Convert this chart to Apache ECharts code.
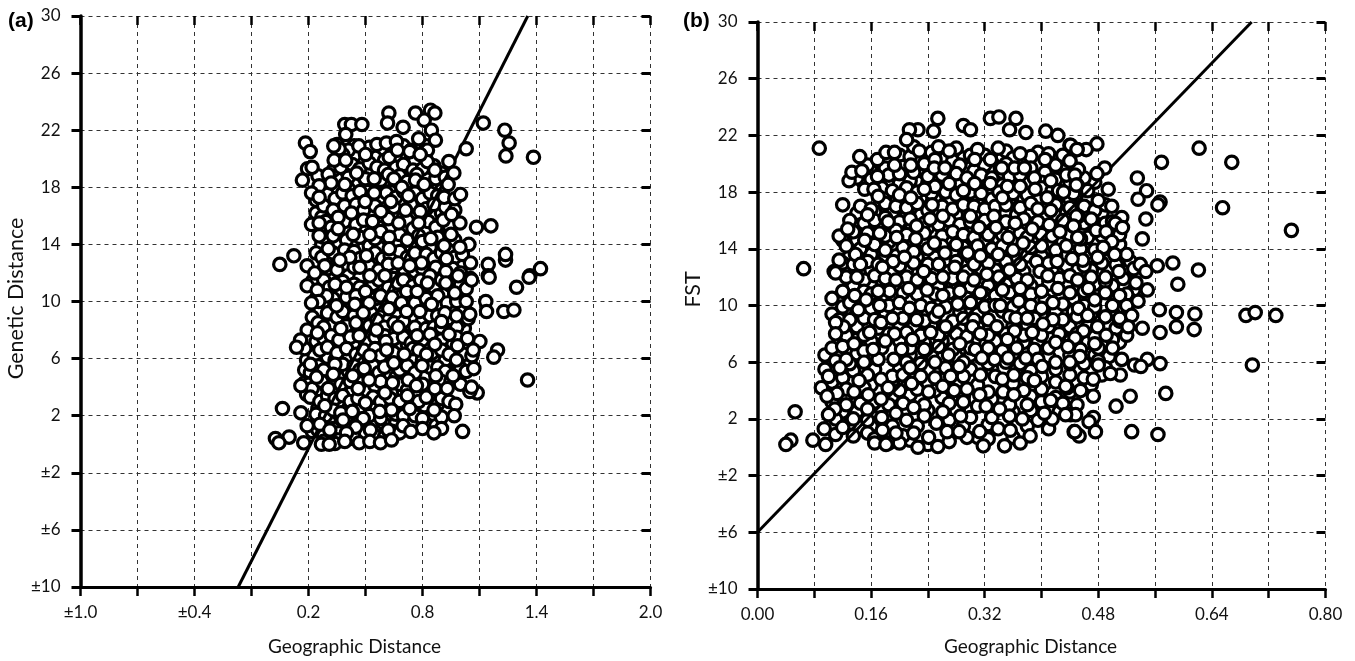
<!DOCTYPE html>
<html>
<head>
<meta charset="utf-8">
<style>
  html, body { margin: 0; padding: 0; background: #fff; }
  #chart { width: 1355px; height: 661px; }
</style>
<script src="https://cdn.jsdelivr.net/npm/echarts@6/dist/echarts.min.js"></script>
</head>
<body>
<div id="chart"></div>
<script>
// tick positions and labels
const yTicks = [-10, -6, -2, 2, 6, 10, 14, 18, 22, 26, 30]
const yLabels = ['±10', '±6', '±2', '2', '6', '10', '14', '18', '22', '26', '30']
const xTicksA = [-1.0, -0.7, -0.4, -0.1, 0.2, 0.5, 0.8, 1.1, 1.4, 1.7, 2.0]
const xLabelValuesA = [-1.0, -0.4, 0.2, 0.8, 1.4, 2.0]
const xLabelsA = ['±1.0', '±0.4', '0.2', '0.8', '1.4', '2.0']
const xTicksB = [0, 0.08, 0.16, 0.24, 0.32, 0.40, 0.48, 0.56, 0.64, 0.72, 0.80]
const xLabelValuesB = [0, 0.16, 0.32, 0.48, 0.64, 0.80]
const xLabelsB = ['0.00', '0.16', '0.32', '0.48', '0.64', '0.80']

// fitted lines, end points
const fitLineA = [[-0.17, -10], [1.354, 30]]
const fitLineB = [[0, -6], [0.696, 30]]

// panel (a): deepest layer, mostly hidden rings
const buriedA = [
  [.44,20.9],[.58,20.5],[.66,20.2],[.72,20.2],[.44,20.2],[.55,20.1],[.6,19.9],[.76,19.9],[.3,18.5],[.35,18.6],
  [.44,18.2],[.54,18.2],[.6,18.3],[.66,18.2],[.74,18],[.82,18.6],[.88,18],[.29,18],[.35,17.8],[.41,17.9],
  [.52,18.1],[.63,17.7],[.78,17.9],[.9,17.8],[.24,16.2],[.27,15.9],[.36,16.4],[.43,16],[.47,16],[.53,16.2],
  [.58,15.8],[.65,16],[.7,15.9],[.77,16],[.85,16.1],[.9,16.2],[.96,15.8],[.27,14],[.31,14.1],[.36,14],
  [.43,14],[.52,13.9],[.57,13.8],[.66,14.1],[.74,13.8],[.84,13.8],[.92,14.5],[.97,14.3],[.33,12.9],[.29,12.9],
  [.4,12.6],[.48,12.7],[.56,12.9],[.65,12.8],[.72,12.5],[.83,12.7],[.89,12.9],[.93,12.6],[.25,11.9],[.33,11.7],
  [.41,11.8],[.47,11.7],[.6,11.5],[.65,11.6],[.73,11.6],[.78,11.9],[.83,11.5],[.94,11.7],[.24,10.2],[.3,10.6],
  [.37,10.5],[.42,9.8],[.48,10.2],[.51,10.5],[.61,10.5],[.68,10.3],[.74,10.5],[.79,10.3],[.85,10.6],[.91,10.5],
  [.97,10.5],[.26,9.4],[.33,9.4],[.41,9.4],[.47,9.6],[.56,9.5],[.64,9.5],[.7,9.4],[.77,9.6],[.82,9.5],
  [.9,9.6],[.97,9.3],[1.02,9.4],[.22,8.9],[.32,8.3],[.43,8.1],[.49,8.6],[.58,8.2],[.68,8],[.74,8.3],
  [.79,8],[.84,8.5],[.94,8.3],[1.02,8.1],[.24,6.9],[.33,7],[.39,7.5],[.46,7.7],[.53,6.9],[.62,7],
  [.67,6.8],[.72,7],[.82,6.9],[.87,7.1],[.96,7.1],[1.05,6.7],[.19,5.9],[.23,6.2],[.3,6.1],[.34,5.9],
  [.41,6],[.46,5.8],[.52,5.7],[.6,5.9],[.67,5.9],[.74,6],[.8,5.9],[.87,5.8],[.92,5.9],[.98,5.7],
  [1.05,5.7],[.18,5.2],[.24,4.8],[.3,4.7],[.36,4.7],[.41,5.1],[.5,4.7],[.56,4.6],[.62,4.9],[.66,4.7],
  [.74,4.7],[.81,4.7],[.88,4.5],[.98,4.7],[.19,3.5],[.24,3.7],[.3,3.9],[.39,3.6],[.43,3.7],[.5,3.8],
  [.56,3.7],[.62,3.6],[.66,3.6],[.7,3.7],[.76,3.5],[.82,3.8],[.9,3.6],[.25,2.5],[.31,2.9],[.36,2.8],
  [.41,2.5],[.47,2.6],[.55,2.8],[.61,2.7],[.67,2.7],[.74,3],[.81,2.7],[.88,2.8],[.27,1.7],[.31,1.6],
  [.4,1.7],[.47,1.6],[.53,1.4],[.6,1.4],[.66,1.5],[.74,1.5],[.82,1.4],[.87,1.3],[.42,.4],[.47,.6]
]

// panel (a): rings that are partly covered in the dense middle of the cloud
const coveredA = [
  [.35,21],[.41,20.6],[.38,20.3],[.52,20.8],[.56,21],[.64,20.9],[.7,20.9],[.74,20.6],[.82,20.9],[.36,20],
  [.25,18.8],[.33,19.2],[.37,19.4],[.43,19.6],[.47,19.3],[.52,19.7],[.56,19.4],[.6,19.2],[.66,19.4],[.7,19.6],
  [.75,19.2],[.8,19.3],[.86,19.5],[.9,19],[.41,18.7],[.5,18.6],[.58,18.5],[.62,18.9],[.68,18.8],[.72,18.4],
  [.77,18.9],[.87,18.6],[.92,18.7],[.24,17.1],[.3,17.5],[.34,17.2],[.38,17.6],[.43,17.4],[.51,17.7],[.58,17.2],
  [.61,17.6],[.66,17.3],[.7,17.7],[.76,17.6],[.8,17.2],[.84,17.6],[.88,17.4],[.28,16.7],[.33,16.4],[.39,16.7],
  [.45,16.8],[.49,16.4],[.55,16.7],[.6,16.5],[.65,16.6],[.74,16.8],[.82,16.5],[.86,16.8],[.92,16.6],[.97,16.4],
  [.29,15.6],[.32,15.2],[.39,15.6],[.45,15.4],[.49,15.7],[.57,15.2],[.62,15.8],[.72,15.7],[.75,15.1],[.83,15.6],
  [.87,15.2],[.94,15.3],[.28,14.5],[.33,14.6],[.4,14.3],[.47,14.5],[.55,14.4],[.58,14.9],[.68,14.7],[.72,14.3],
  [.78,14.6],[.8,14.2],[.88,14.5],[.95,14.7],[.24,13.4],[.27,13.1],[.33,13.4],[.39,13.6],[.44,13.5],[.47,13],
  [.55,13.4],[.59,13],[.63,13.2],[.68,13.5],[.72,13.1],[.76,13.4],[.82,13.3],[.86,13],[.9,13.4],[.97,13.1],
  [1.01,13.3],[.3,12.3],[.35,12.2],[.44,12.4],[.52,12.5],[.57,12.2],[.62,12.6],[.7,12.3],[.76,12.1],[.8,12.3],
  [.87,12.4],[.96,12.3],[1,12],[.22,11.4],[.28,11.5],[.31,11],[.38,11.4],[.44,11.2],[.47,11],[.54,11.2],
  [.57,11.5],[.62,11],[.67,11.3],[.7,11.5],[.75,11.1],[.79,11.5],[.86,11],[.9,11.5],[.95,11.1],[1,11.2],
  [1.03,10.9],[.28,10],[.33,10.2],[.4,10.3],[.45,10.4],[.55,10.2],[.58,10.4],[.64,10.3],[.72,10],[.76,9.9],
  [.82,10.2],[.88,10.4],[.93,9.9],[.98,10],[1.03,10],[.3,9.2],[.35,8.9],[.38,9.3],[.44,9],[.53,9.2],
  [.58,8.9],[.62,8.7],[.67,9],[.75,8.8],[.8,8.6],[.84,9],[.88,9],[.95,8.8],[1,8.6],[1.04,8.8],
  [.25,8.5],[.28,8.2],[.4,8.3],[.45,8.5],[.52,8.3],[.56,8.7],[.6,8.2],[.65,8.5],[.7,8.6],[.76,8.2],
  [.82,8.1],[.86,8.2],[.9,8.2],[.98,8.2],[.2,7.5],[.24,7.2],[.28,7.4],[.32,7.6],[.36,7.3],[.42,7.5],
  [.5,7.1],[.55,7.5],[.6,7.6],[.65,7.4],[.7,7.5],[.74,7.1],[.8,7.3],[.84,7.7],[.9,7.3],[.98,7.5],
  [1.02,7],[.18,6.7],[.26,6.6],[.3,6.8],[.35,6.4],[.4,6.7],[.45,6.3],[.49,6.6],[.55,6.7],[.58,6.2],
  [.65,6.4],[.75,6.7],[.78,6.6],[.85,6.4],[.9,6.6],[.94,6.3],[1.02,6.3],[1.06,6.2],[.21,5],[.25,5.5],
  [.28,5.2],[.35,5.4],[.38,5.6],[.44,5.5],[.47,5.2],[.54,5.5],[.57,5],[.6,5.4],[.68,5.2],[.72,5.5],
  [.76,5],[.84,5.4],[.88,5.4],[.92,5.1],[1,5.3],[1.03,5.1],[.18,4.3],[.2,4.2],[.22,3.9],[.27,4.4],
  [.33,4],[.37,4.2],[.42,4.4],[.47,4.3],[.55,4.1],[.58,4.4],[.68,4.2],[.72,3.8],[.8,4.2],[.9,4.4],
  [.95,4.4],[1,4.2],[.21,3.3],[.26,3],[.3,3.4],[.34,3.2],[.38,3.4],[.42,3],[.46,3.2],[.54,3.3],
  [.58,3],[.63,3.2],[.68,3],[.72,3.4],[.78,3],[.82,3.3],[.9,3.2],[.94,3],[.24,2.1],[.29,2],
  [.33,2.4],[.37,2.2],[.43,2.3],[.52,2],[.58,1.8],[.66,2.1],[.7,2],[.76,2],[.8,1.8],[.9,1.9],
  [.22,.9],[.25,1],[.28,.6],[.33,1.1],[.36,.8],[.41,1.2],[.44,.5],[.5,.8],[.55,.6],[.6,.5],
  [.64,.9],[.68,.8],[.28,.2],[.33,.4],[.36,.3]
]

// panel (a): rings that are fully visible
const visibleA = [
  [.623,23.2],[.616,22.5],[.698,22.2],[.763,23.2],[.842,23.4],[.865,23.2],[.809,22.7],[.847,22],[.868,21.3],[.391,22.4],
  [.426,22.4],[.481,22.4],[.396,21.7],[.184,21.1],[.209,20.5],[1.03,20.7],[1.12,22.5],[1.233,22],[1.256,21.1],[1.239,20.2],
  [1.384,20.1],[.939,19.8],[.195,19.3],[.219,19.4],[.168,18.5],[.304,18.9],[.319,18.3],[.391,18.2],[.256,18.1],[.216,17.6],
  [.256,17.3],[.361,20.7],[.335,19.9],[.396,19.9],[.465,20.9],[.5,20.3],[.333,20.9],[.61,21.1],[.663,21.2],[.625,20.1],
  [.668,20.6],[.733,20.5],[.78,21.4],[.826,20.6],[.825,19.8],[.788,20.3],[.865,19.2],[.546,18.6],[.649,18.6],[.763,18.5],
  [.691,18],[.809,18.2],[.453,19],[.471,17.7],[.546,17.6],[.725,17.4],[.633,17],[.498,17],[.711,16.4],[.788,16.3],
  [.914,17.3],[.97,17.2],[.965,19],[.935,18.2],[1,17.5],[.426,16.2],[.356,15.9],[.581,16.3],[.537,15.6],[.675,15.5],
  [.78,15.5],[.909,15.7],[.997,15.5],[1.084,15.2],[1.16,15.3],[.953,16.1],[.216,15.4],[.256,15.5],[.356,15.1],[.435,14.7],
  [.256,14.6],[.523,14.7],[.625,14.5],[.844,14.4],[.914,13.9],[1.044,14],[.997,13.8],[.625,13.7],[.304,13.7],[.505,13.2],
  [.417,13.1],[.365,12.9],[.795,12.7],[.926,13],[1.053,12.7],[1.146,12.6],[1.237,12.9],[1.237,13.3],[1.421,12.3],[1.365,11.8],
  [.049,12.6],[.123,13.2],[.193,12.5],[.233,12],[.47,12.4],[.672,12.7],[.923,12.1],[.523,11.8],[.602,11.8],[.733,12.5],
  [.839,11.8],[.286,12.5],[1.146,11.8],[1.053,11.6],[.988,11.8],[.193,11.1],[.295,10.4],[.246,10.8],[.34,11.2],[.5,10.7],
  [.347,9.7],[.254,10],[.216,9.9],[.444,9.8],[.519,9.9],[.4,11],[.716,10.7],[.772,10.7],[.826,11.3],[.923,11.3],
  [.97,10.6],[1.058,11.5],[1.151,11.7],[1.295,11],[1.361,11.7],[1.133,10],[1.137,9.3],[1.228,9.3],[1.281,9.4],[.689,9.9],
  [.847,9.8],[1.049,9.1],[.918,9.2],[.979,9],[.623,9.5],[.488,9.2],[.716,9.3],[.786,9.3],[.9,8.6],[.672,8.2],
  [.37,8.1],[.193,8],[.247,7.8],[.158,7.3],[.137,6.8],[.467,7.6],[.558,8],[.772,7.6],[.94,7.7],[1.037,7.4],
  [1.102,7.2],[.607,7.2],[.984,6.9],[1.067,6.6],[.865,7],[.611,6.6],[.821,6.3],[.704,6.3],[.523,6.2],[1.195,6.6],
  [1.175,6.1],[.979,5.9],[.649,5.7],[.798,5.5],[.339,5.6],[.21,5.6],[.493,5.3],[1.07,5.3],[.961,4.8],[.87,4.8],
  [.725,4.5],[.519,4.5],[.433,4.8],[.33,4.9],[.242,4.7],[.642,4.3],[1.353,4.5],[1.088,3.6],[1.049,3.7],[1.058,4],
  [.768,4.1],[.865,3.9],[.93,3.9],[.304,3.9],[.461,3.9],[.602,3.6],[.16,4.1],[.975,2.8],[.286,2.7],[.5,2.9],
  [.733,2.5],[.861,2.4],[.637,2.4],[.575,2.3],[.063,2.5],[.16,2.2],[.967,2],[.488,1.8],[.382,1.7],[.193,1.3],
  [.26,1.4],[.312,1],[.449,1.2],[.698,1.3],[.8,1.1],[.9,1.1],[1.011,.9],[.86,.8],[.739,.9],[.619,1],
  [.526,1],[.4,.8],[.467,.1],[.339,.05],[.175,.1],[.523,.2],[.579,.1],[.637,.3],[.268,0],[.309,0],
  [.391,.2],[.098,.5],[.026,.4],[.044,.1]
]

// panel (b): deepest layer, mostly hidden rings
const buriedB = [
  [.2,20.6],[.215,20.5],[.24,20.5],[.265,20.4],[.29,20.4],[.32,20.6],[.345,20.5],[.395,20.8],[.41,20.7],[.16,19.5],
  [.175,19.4],[.21,19.2],[.235,19.4],[.25,19],[.27,19],[.305,19.5],[.325,19.6],[.345,19.4],[.385,19.3],[.405,19.4],
  [.43,19.5],[.15,18.6],[.185,18.6],[.2,18.6],[.215,18.8],[.24,18.7],[.265,18.5],[.285,18.7],[.31,18.7],[.345,18.5],
  [.36,18.7],[.38,18.6],[.4,18.7],[.425,18.5],[.44,18.7],[.475,18.7],[.18,17.7],[.205,17.4],[.23,17.6],[.25,17.5],
  [.27,17.4],[.29,17.6],[.31,17.5],[.33,17.5],[.355,17.5],[.375,17.5],[.395,17.4],[.42,17.5],[.44,17.5],[.465,17.6],
  [.14,16.5],[.165,16.6],[.19,16.5],[.21,16.5],[.23,16.4],[.28,16.4],[.31,16.5],[.35,16.5],[.365,16.4],[.385,16.6],
  [.405,16.3],[.435,16.5],[.465,16.4],[.485,16.5],[.14,15.5],[.155,15.5],[.2,15.5],[.24,15.5],[.265,15.4],[.295,15.5],
  [.33,15.4],[.36,15.4],[.4,15.5],[.425,15.6],[.475,15.6],[.5,15.4],[.12,14.6],[.14,14.6],[.165,14.7],[.185,14.5],
  [.21,14.5],[.235,14.5],[.27,14.6],[.295,14.6],[.32,14.6],[.34,14.6],[.365,14.5],[.39,14.5],[.41,14.5],[.43,14.5],
  [.475,14.5],[.51,14.3],[.13,13.5],[.16,13.6],[.18,13.4],[.195,13.5],[.225,13.4],[.25,13.4],[.28,13.5],[.3,13.4],
  [.325,13.5],[.36,13.5],[.38,13.5],[.4,13.5],[.42,13.5],[.465,13.4],[.495,13.4],[.515,13.3],[.13,12.5],[.16,12.5],
  [.19,12.4],[.21,12.5],[.25,12.4],[.27,12.4],[.295,12.4],[.315,12.6],[.335,12.5],[.375,12.4],[.415,12.5],[.45,12.5],
  [.47,12.5],[.495,12.5],[.52,12.4],[.135,11.4],[.16,11.4],[.185,11.5],[.2,11.4],[.23,11.4],[.255,11.3],[.275,11.4],
  [.3,11.3],[.325,11.4],[.35,11.5],[.385,11.4],[.41,11.5],[.435,11.4],[.475,11.5],[.5,11.4],[.53,11.1],[.105,10.5],
  [.145,10.4],[.175,10.5],[.215,10.4],[.24,10.4],[.27,10.4],[.295,10.5],[.315,10.5],[.35,10.4],[.38,10.4],[.405,10.4],
  [.445,10.5],[.47,10.5],[.505,10.4],[.525,10.4],[.105,9.4],[.14,9.5],[.18,9.5],[.215,9.4],[.24,9.5],[.285,9.5],
  [.31,9.4],[.345,9.6],[.375,9.5],[.4,9.4],[.42,9.6],[.445,9.6],[.47,9.4],[.5,9.5],[.125,8.4],[.14,8.5],
  [.17,8.4],[.2,8.5],[.22,8.5],[.245,8.6],[.285,8.4],[.31,8.5],[.36,8.6],[.38,8.6],[.41,8.5],[.44,8.5],
  [.465,8.5],[.505,8.4],[.115,7.5],[.14,7.6],[.16,7.5],[.2,7.5],[.235,7.4],[.26,7.5],[.305,7.5],[.335,7.5],
  [.375,7.4],[.395,7.5],[.44,7.5],[.465,7.4],[.49,7.4],[.51,7.4],[.095,6.5],[.14,6.6],[.165,6.5],[.215,6.5],
  [.245,6.5],[.28,6.4],[.3,6.5],[.34,6.5],[.36,6.6],[.41,6.4],[.44,6.5],[.475,6.5],[.495,6.4],[.095,5.5],
  [.135,5.4],[.165,5.5],[.2,5.5],[.24,5.5],[.265,5.6],[.3,5.5],[.33,5.5],[.365,5.5],[.385,5.4],[.42,5.5],
  [.47,5.4],[.49,5.6],[.105,4.6],[.16,4.4],[.19,4.5],[.24,4.5],[.28,4.5],[.31,4.4],[.36,4.5],[.405,4.5],
  [.45,4.5],[.47,4.4],[.1,3.7],[.125,3.6],[.19,3.6],[.215,3.7],[.26,3.5],[.29,3.6],[.33,3.4],[.385,3.6],
  [.42,3.5],[.12,2.5],[.14,2.5],[.175,2.7],[.24,2.6],[.28,2.6],[.3,2.6],[.36,2.5],[.385,2.6],[.425,2.5],
  [.13,1.7],[.16,1.5],[.19,1.5],[.225,1.5],[.29,1.5],[.325,1.6],[.38,1.5],[.41,1.3],[.215,.5],[.31,.7]
]

// panel (b): rings that are partly covered in the dense middle of the cloud
const coveredB = [
  [.22,21.2],[.245,20.8],[.255,21.2],[.28,21.1],[.3,20.6],[.31,21],[.35,20.9],[.36,20.4],[.385,20.5],[.155,19.9],
  [.18,19.7],[.205,19.8],[.235,20],[.25,20.3],[.275,20.2],[.285,19.9],[.32,19.9],[.35,20],[.385,19.7],[.42,19.9],
  [.43,20.6],[.14,19],[.16,18.9],[.185,19.2],[.2,19.3],[.22,19.4],[.24,19.1],[.26,19.2],[.28,19.3],[.295,19],
  [.315,19.2],[.33,19],[.355,19.1],[.37,19.2],[.39,19],[.42,18.9],[.435,19.2],[.46,19],[.175,18.3],[.19,18.1],
  [.21,18.3],[.225,18],[.245,17.9],[.265,18],[.28,17.8],[.3,18],[.315,17.9],[.34,18],[.36,17.9],[.38,17.8],
  [.4,18.3],[.415,18.1],[.445,17.9],[.465,18.1],[.145,17],[.16,16.8],[.18,17.2],[.195,17],[.21,16.9],[.225,17.2],
  [.24,16.7],[.26,17],[.275,16.8],[.29,17.1],[.305,17],[.32,16.8],[.335,17],[.35,17.1],[.37,16.9],[.385,17.2],
  [.395,16.8],[.42,17.1],[.44,16.9],[.46,17],[.475,16.7],[.49,17.1],[.13,16],[.15,15.8],[.165,16],[.18,16.2],
  [.2,15.9],[.215,16.1],[.235,15.8],[.255,15.7],[.27,16],[.285,15.7],[.3,15.9],[.32,16],[.35,15.9],[.375,16.1],
  [.395,15.9],[.43,16],[.46,15.8],[.47,16.1],[.49,15.8],[.5,15.9],[.115,14.9],[.135,15.2],[.155,15.1],[.18,14.9],
  [.195,15.3],[.21,15],[.235,15.1],[.26,14.9],[.275,15.2],[.29,15],[.305,14.8],[.325,15],[.345,15],[.37,15.1],
  [.38,14.8],[.4,15],[.415,14.9],[.44,15],[.465,14.8],[.485,14.9],[.51,15],[.125,14.2],[.145,14],[.165,14.3],
  [.18,13.9],[.205,14.1],[.22,13.8],[.24,14],[.26,14.2],[.275,13.8],[.29,14.1],[.31,14.2],[.33,14],[.345,14.2],
  [.36,13.9],[.385,14.1],[.4,14.2],[.42,13.9],[.435,14.2],[.455,14],[.475,13.9],[.49,14],[.12,13],[.135,12.9],
  [.155,13.1],[.17,12.9],[.2,12.8],[.22,13],[.24,12.9],[.28,13.1],[.305,12.9],[.325,13],[.35,13.1],[.37,12.9],
  [.41,13],[.435,12.8],[.46,12.8],[.485,13],[.505,12.9],[.525,13.1],[.125,12],[.15,11.8],[.165,12.1],[.18,11.9],
  [.21,12],[.225,11.8],[.245,11.9],[.275,11.9],[.29,12],[.305,11.8],[.34,12],[.365,11.9],[.38,11.8],[.425,11.9],
  [.44,12.1],[.47,12],[.49,11.7],[.515,11.9],[.12,11],[.15,11],[.16,10.8],[.205,10.9],[.225,10.8],[.25,10.8],
  [.27,10.9],[.285,11],[.32,10.8],[.335,10.7],[.355,10.9],[.385,10.8],[.4,11],[.44,10.9],[.46,11],[.49,10.9],
  [.52,10.8],[.12,9.9],[.13,10.2],[.16,9.8],[.185,10],[.2,10.2],[.23,10],[.245,9.8],[.265,9.9],[.3,10.2],
  [.32,9.9],[.335,10],[.36,9.9],[.385,10],[.4,9.8],[.43,10.1],[.46,10],[.475,9.9],[.5,10],[.52,10],
  [.115,9],[.13,9],[.15,9.1],[.165,9],[.205,9.1],[.235,8.9],[.25,9.2],[.275,8.9],[.29,9.1],[.305,9],
  [.325,9],[.355,9.2],[.39,9.1],[.43,9],[.45,9.2],[.49,9.2],[.51,8.9],[.125,7.9],[.15,7.9],[.185,8],
  [.21,8.1],[.23,7.9],[.255,7.9],[.28,8],[.295,7.8],[.325,7.9],[.35,8],[.375,7.9],[.4,7.9],[.425,8],
  [.45,8],[.475,7.8],[.5,7.6],[.52,7.9],[.105,7],[.12,7.1],[.15,6.8],[.175,7],[.215,7],[.235,6.9],
  [.255,7.1],[.275,6.9],[.3,7],[.325,7],[.345,6.8],[.365,7],[.39,6.9],[.41,7],[.455,6.9],[.48,7],
  [.5,7],[.11,6.1],[.13,5.9],[.15,6],[.17,6.2],[.21,6],[.23,5.9],[.25,6],[.29,6],[.325,5.9],
  [.35,6],[.37,5.9],[.395,6.2],[.42,6],[.46,5.9],[.48,6.1],[.1,5],[.12,4.9],[.155,5.1],[.19,5],
  [.205,5.1],[.23,5],[.25,4.9],[.29,5],[.335,5],[.345,4.8],[.38,4.9],[.4,5],[.44,5.1],[.46,4.9],
  [.485,5.1],[.09,4.2],[.125,4.1],[.15,4.2],[.2,4],[.225,4.1],[.25,4],[.295,4.1],[.325,3.9],[.375,4],
  [.4,4.1],[.44,3.9],[.455,4],[.105,3.2],[.125,3],[.145,3.1],[.165,3.2],[.185,3],[.205,3.1],[.235,3],
  [.27,3.1],[.29,3.2],[.31,2.9],[.355,3],[.38,3],[.4,3.2],[.43,3.1],[.45,3],[.11,2],[.155,1.9],
  [.175,2.1],[.21,1.9],[.235,2.2],[.27,1.9],[.3,2.1],[.33,2.1],[.355,2.2],[.395,1.9],[.415,2],[.11,.9],
  [.135,.8],[.155,1],[.165,.6],[.185,.3],[.205,.8],[.22,1],[.27,.4],[.295,.7],[.325,.6],[.36,.7],
  [.37,.3],[.2,.3],[.24,.2],[.165,.3]
]

// panel (b): rings that are fully visible
const visibleB = [
  [.622,21.1],[.668,20.1],[.569,20.1],[.535,19],[.548,18.1],[.536,17.5],[.567,17.3],[.564,17.1],[.655,16.9],[.752,15.3],
  [.547,16.1],[.542,14.7],[.478,21.4],[.463,21],[.45,21],[.44,21.3],[.44,20.2],[.489,19.7],[.478,19.3],[.452,19.6],
  [.447,19.2],[.45,18.5],[.494,18.2],[.48,17.4],[.499,17],[.424,18.1],[.513,16.2],[.504,15.8],[.514,15.5],[.452,16.3],
  [.446,15.6],[.477,15.3],[.491,15.2],[.455,14.7],[.499,14.5],[.487,14.1],[.52,13.6],[.503,13.6],[.479,13.4],[.445,13.3],
  [.458,13.2],[.563,12.8],[.585,13],[.621,12.5],[.53,12.6],[.539,12.9],[.547,12.4],[.509,12.4],[.49,12],[.592,11.5],
  [.533,11.6],[.549,11.1],[.452,11.8],[.466,11.2],[.51,10.7],[.475,10.4],[.536,10.3],[.566,9.7],[.452,9.8],[.59,9.5],
  [.616,9.4],[.688,9.3],[.701,9.5],[.73,9.3],[.51,9.1],[.527,9.3],[.465,9.3],[.59,8.5],[.615,8.3],[.567,8.1],
  [.542,8.4],[.522,8.5],[.479,8.5],[.491,7.9],[.459,8.2],[.475,7.3],[.438,7.1],[.513,6.2],[.549,6.2],[.567,5.9],
  [.531,5.8],[.54,5.7],[.697,5.8],[.48,5.8],[.454,6.4],[.44,5.9],[.511,5.1],[.497,5.2],[.473,4.8],[.436,4.2],
  [.473,3.6],[.575,3.8],[.525,3.6],[.505,2.9],[.441,2.3],[.473,2.1],[.467,1.8],[.453,.8],[.446,1.1],[.476,1.1],
  [.527,1.1],[.564,.9],[.087,21.1],[.065,12.6],[.254,23.2],[.248,22.3],[.226,22.4],[.214,22.4],[.21,21.7],[.29,22.7],
  [.3,22.4],[.328,23.2],[.34,23.3],[.364,23.2],[.355,22.4],[.378,22.2],[.406,22.3],[.423,22],[.441,21.3],[.45,21],
  [.144,20.5],[.169,20.3],[.181,20.8],[.193,20.8],[.193,19.9],[.129,18.8],[.133,19.4],[.147,19.5],[.169,19.1],[.151,18.2],
  [.164,18.2],[.17,17.7],[.12,17.1],[.155,16.4],[.127,15.4],[.228,20.9],[.216,19.9],[.249,19.7],[.264,19.7],[.27,20.9],
  [.306,20.3],[.328,20.3],[.339,21.1],[.37,20.7],[.362,19.7],[.344,19.7],[.376,19.7],[.405,20.3],[.44,20.2],[.413,18.8],
  [.449,18.5],[.25,18.4],[.27,18.6],[.306,18.6],[.328,18.6],[.352,18.4],[.37,18.4],[.391,18.2],[.431,18],[.408,17.6],
  [.345,17.6],[.29,18.1],[.235,18.2],[.2,17.8],[.216,17.6],[.246,17.1],[.413,16.7],[.449,16.3],[.3,16.3],[.333,16.3],
  [.261,16.3],[.243,16.1],[.224,15.6],[.184,15.9],[.172,15.1],[.312,15.5],[.336,15.5],[.363,15.8],[.387,15.4],[.411,15.7],
  [.426,15.2],[.445,15.6],[.151,14.6],[.196,14.8],[.223,14.7],[.249,14.4],[.28,14.3],[.353,14.8],[.374,14.4],[.451,14.8],
  [.138,13.6],[.115,13.2],[.108,12.4],[.145,12.9],[.191,13.1],[.207,13.4],[.264,13.7],[.296,13.7],[.314,13.5],[.339,13.6],
  [.255,12.9],[.278,12.7],[.393,13.1],[.422,13.1],[.443,13.3],[.234,12.4],[.176,12.7],[.323,12.2],[.355,12.5],[.398,12.4],
  [.409,12.1],[.14,12],[.195,11.8],[.261,12],[.11,12.3],[.137,10.7],[.186,11],[.17,11],[.213,11.2],[.239,11.1],
  [.261,10.7],[.314,10.9],[.345,11.1],[.37,11.2],[.423,11.2],[.451,11.8],[.282,10.1],[.153,10.4],[.142,9.7],[.214,9.8],
  [.172,10],[.255,9.6],[.368,10.3],[.416,10.2],[.342,10],[.121,8.5],[.11,8.8],[.11,8],[.174,8.8],[.19,9.1],
  [.224,9],[.265,8.5],[.244,8.1],[.158,8.1],[.193,8],[.136,7.3],[.303,8.5],[.364,9.1],[.38,9.1],[.416,9],
  [.402,8.7],[.337,8.5],[.314,8],[.362,8.2],[.387,8.1],[.218,7.6],[.18,7.5],[.163,6.9],[.203,6.9],[.352,7.6],
  [.285,7.3],[.42,7.4],[.447,7.7],[.437,7.1],[.269,6.5],[.307,6.9],[.334,6.2],[.353,6.3],[.378,6.3],[.316,6.3],
  [.192,6.2],[.125,6.2],[.116,5.6],[.215,5.6],[.284,5.7],[.401,5.7],[.44,6],[.314,5.1],[.272,5],[.361,5.1],
  [.174,4.8],[.143,4.7],[.217,4.5],[.39,4.7],[.42,4.6],[.434,4.3],[.112,3.8],[.098,3.6],[.136,3.9],[.156,3.7],
  [.184,4.2],[.241,3.9],[.174,3.4],[.277,4],[.261,4.3],[.313,3.7],[.346,3.9],[.361,3.7],[.413,3.3],[.22,2.8],
  [.109,2.7],[.155,2.7],[.322,2.9],[.341,2.7],[.261,2.5],[.404,2.4],[.135,2],[.195,2.4],[.286,2.2],[.373,2],
  [.448,2.3],[.434,2.3],[.1,2.3],[.094,1.3],[.12,1.4],[.176,1.2],[.195,1],[.252,1.7],[.241,.7],[.267,1.1],
  [.284,1.1],[.313,1.1],[.339,1.3],[.356,1.2],[.384,.8],[.447,1.1],[.053,2.5],[.078,.5],[.047,.5],[.04,.2],
  [.096,.2],[.254,.05],[.226,0],[.181,.2],[.318,.1],[.348,.1]
]

const FONT = 'Lato'
const grids = [
  { left: 80.5, top: 16, width: 570, height: 571 },
  { left: 757.5, top: 22, width: 568, height: 568 }
]

const lookup = (values, labels) => (v) => {
  const i = values.findIndex(t => Math.abs(t - v) < 1e-6)
  return i < 0 ? '' : labels[i]
}

const makeXAxes = (gridIndex, min, max, ticks, labelValues, labels, nameGap) => ([
  {
    gridIndex, type: 'value', min, max,
    name: 'Geographic Distance',
    nameLocation: 'middle',
    nameGap,
    nameTextStyle: { fontFamily: FONT, fontSize: 19, color: '#111', padding: [0, 22, 0, 0] },
    axisLine: { onZero: false, lineStyle: { color: '#000', width: 3 } },
    axisTick: { customValues: ticks, length: 9, inside: false, lineStyle: { color: '#000', width: 2.5 } },
    axisLabel: {
      customValues: labelValues,
      margin: 17,
      fontFamily: FONT, fontSize: 17, color: '#111',
      formatter: lookup(labelValues, labels)
    },
    splitLine: { show: true, lineStyle: { color: '#333', width: 1, type: [4, 4] } }
  },
  {
    gridIndex, type: 'value', min, max,
    axisLine: { show: false, onZero: false },
    axisTick: { customValues: ticks, length: 9, inside: true, lineStyle: { color: '#000', width: 2.5 } },
    axisLabel: { show: false },
    splitLine: { show: false }
  }
])

const makeYAxes = (gridIndex, name, nameGap, nameSize, namePad) => ([
  {
    gridIndex, type: 'value', min: -10, max: 30,
    name,
    nameLocation: 'middle',
    nameGap,
    nameTextStyle: { fontFamily: FONT, fontSize: nameSize, color: '#111', padding: [0, 0, 0, namePad] },
    axisLine: { onZero: false, lineStyle: { color: '#000', width: 3.5 } },
    axisTick: { customValues: yTicks, length: 9, inside: false, lineStyle: { color: '#000', width: 3 } },
    axisLabel: {
      customValues: yTicks,
      margin: 20,
      fontFamily: FONT, fontSize: 17, color: '#111',
      formatter: lookup(yTicks, yLabels)
    },
    splitLine: { show: true, lineStyle: { color: '#333', width: 1, type: [4, 4] } }
  },
  {
    gridIndex, type: 'value', min: -10, max: 30,
    axisLine: { show: false, onZero: false },
    axisTick: { customValues: yTicks, length: 9, inside: true, lineStyle: { color: '#000', width: 3 } },
    axisLabel: { show: false },
    splitLine: { show: false }
  }
])

const ringStyle = { color: '#fff', borderColor: '#000', borderWidth: 3.2, opacity: 1 }

const ringSeries = (axisIndex, data, z) => ({
  type: 'scatter', xAxisIndex: axisIndex, yAxisIndex: axisIndex, data,
  symbolSize: 12.4, itemStyle: ringStyle, z, clip: false, animation: false
})

const makeSeries = (axisIndex, buried, covered, line, visible) => ([
  ringSeries(axisIndex, buried, 2),
  ringSeries(axisIndex, covered, 3),
  {
    type: 'line', xAxisIndex: axisIndex, yAxisIndex: axisIndex, data: line,
    showSymbol: false, lineStyle: { color: '#000', width: 3 }, z: 4, animation: false
  },
  ringSeries(axisIndex, visible, 5)
])

const panelTitle = (text, left) => ({
  text, left, top: 11, padding: 0,
  textStyle: { fontFamily: 'Liberation Sans', fontSize: 21, fontWeight: 'bold', color: '#000' }
})

const chart = echarts.init(document.getElementById('chart'))
chart.setOption({
  animation: false,
  backgroundColor: '#fff',
  title: [panelTitle('(a)', 8), panelTitle('(b)', 683)],
  grid: grids,
  xAxis: [
    ...makeXAxes(0, -1.0, 2.0, xTicksA, xLabelValuesA, xLabelsA, 50),
    ...makeXAxes(1, 0, 0.8, xTicksB, xLabelValuesB, xLabelsB, 48)
  ],
  yAxis: [
    ...makeYAxes(0, 'Genetic Distance', 52, 21.5, 6),
    ...makeYAxes(1, 'FST', 51, 21.5, 32)
  ],
  series: [
    ...makeSeries(0, buriedA, coveredA, fitLineA, visibleA),
    ...makeSeries(2, buriedB, coveredB, fitLineB, visibleB)
  ]
})
</script>
</body>
</html>
